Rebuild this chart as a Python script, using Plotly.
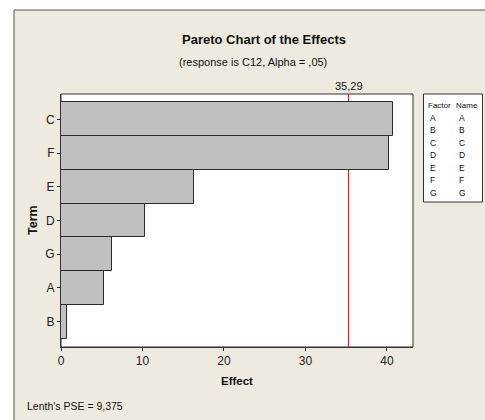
import plotly.graph_objects as go

terms = ["C", "F", "E", "D", "G", "A", "B"]
effects = [40.7, 40.25, 16.3, 10.27, 6.2, 5.23, 0.69]
critical_value = 35.29
critical_label = "35,29"
x_ticks = [0, 10, 20, 30, 40]
factor_names = ["A", "B", "C", "D", "E", "F", "G"]
title_text = "Pareto Chart of the Effects"
subtitle_text = "(response is C12, Alpha = ,05)"
footer_text = "Lenth's PSE = 9,375"

WIDTH, HEIGHT = 485, 420
L, R, T, B = 61, 72, 94, 73
PW = WIDTH - L - R
PH = HEIGHT - T - B
FONT = "Liberation Sans, Arial, sans-serif"
DARK = "#333333"


def fx(px):
    return (px - L) / PW


def fy(py):
    return (HEIGHT - B - py) / PH


fig = go.Figure()
fig.add_trace(go.Bar(
    x=effects, y=terms, orientation="h",
    marker=dict(color="#C0C0C0", line=dict(color="#2a2a2a", width=1)),
    width=1.0, hoverinfo="x+y",
))

shapes = [
    # outer beige panel
    dict(type="rect", xref="paper", yref="paper", layer="below",
         x0=fx(14), x1=fx(495), y0=fy(430), y1=fy(10),
         fillcolor="#EEEAE0", line=dict(color="#555555", width=1)),
    # plot area
    dict(type="rect", xref="paper", yref="paper", layer="below",
         x0=0, x1=1, y0=0, y1=1,
         fillcolor="white", line=dict(color=DARK, width=1)),
    # critical line
    dict(type="line", xref="x", yref="paper", layer="below",
         x0=critical_value, x1=critical_value, y0=0, y1=1,
         line=dict(color="#FF0000", width=1)),
    # legend box
    dict(type="rect", xref="paper", yref="paper", layer="below",
         x0=fx(423.5), x1=fx(482.5), y0=fy(202), y1=fy(94),
         fillcolor="white", line=dict(color=DARK, width=1)),
]

annotations = [
    dict(text="<b>" + title_text + "</b>", x=fx(264), y=fy(40), xref="paper", yref="paper",
         showarrow=False, xanchor="center", yanchor="middle",
         font=dict(family=FONT, size=13, color="#111111")),
    dict(text=subtitle_text, x=fx(253), y=fy(62), xref="paper", yref="paper",
         showarrow=False, xanchor="center", yanchor="middle",
         font=dict(family=FONT, size=11, color="#111111")),
    dict(text=critical_label, x=critical_value, y=fy(86), xref="x", yref="paper",
         showarrow=False, xanchor="center", yanchor="middle",
         font=dict(family=FONT, size=11, color="#111111")),
    dict(text="<b>Term</b>", x=fx(33), y=fy(220), xref="paper", yref="paper",
         showarrow=False, xanchor="center", yanchor="middle", textangle=-90,
         font=dict(family=FONT, size=12.5, color="#111111")),
    dict(text="<b>Effect</b>", x=fx(237), y=fy(381), xref="paper", yref="paper",
         showarrow=False, xanchor="center", yanchor="middle",
         font=dict(family=FONT, size=11.5, color="#111111")),
    dict(text=footer_text, x=fx(25), y=fy(406), xref="paper", yref="paper",
         showarrow=False, xanchor="left", yanchor="middle",
         font=dict(family=FONT, size=10.5, color="#111111")),
    dict(text="Factor", x=fx(426), y=fy(105), xref="paper", yref="paper",
         showarrow=False, xanchor="left", yanchor="middle",
         font=dict(family=FONT, size=8, color="#111111")),
    dict(text="Name", x=fx(453.5), y=fy(105), xref="paper", yref="paper",
         showarrow=False, xanchor="left", yanchor="middle",
         font=dict(family=FONT, size=8, color="#111111")),
]
for i, name in enumerate(factor_names):
    yy = 117.5 + 12.5 * i
    annotations.append(dict(text=name, x=fx(428), y=fy(yy), xref="paper", yref="paper",
                            showarrow=False, xanchor="left", yanchor="middle",
                            font=dict(family=FONT, size=8.5, color="#111111")))
    annotations.append(dict(text=name, x=fx(456.5), y=fy(yy), xref="paper", yref="paper",
                            showarrow=False, xanchor="left", yanchor="middle",
                            font=dict(family=FONT, size=8.5, color="#111111")))

fig.update_layout(
    width=WIDTH, height=HEIGHT,
    margin=dict(l=L, r=R, t=T, b=B, pad=0),
    paper_bgcolor="white", plot_bgcolor="rgba(0,0,0,0)",
    showlegend=False, bargap=0,
    shapes=shapes, annotations=annotations,
    font=dict(family=FONT, size=12, color="#222222"),
)
fig.update_xaxes(
    range=[0, 43.2], tickvals=x_ticks, ticks="outside", ticklen=3, tickcolor=DARK,
    showgrid=False, zeroline=False, showline=True, linecolor=DARK, linewidth=1,
    tickfont=dict(family=FONT, size=12, color="#222222"),
)
fig.update_yaxes(
    categoryorder="array", categoryarray=terms, range=[6.75, -0.75],
    ticks="outside", ticklen=3, tickcolor=DARK,
    showgrid=False, zeroline=False, showline=True, linecolor=DARK, linewidth=1,
    tickfont=dict(family=FONT, size=12, color="#222222"),
)

fig.write_html("out.html", config={"displayModeBar": False},
               post_script="document.body.style.margin='0';document.body.style.overflow='hidden';")
